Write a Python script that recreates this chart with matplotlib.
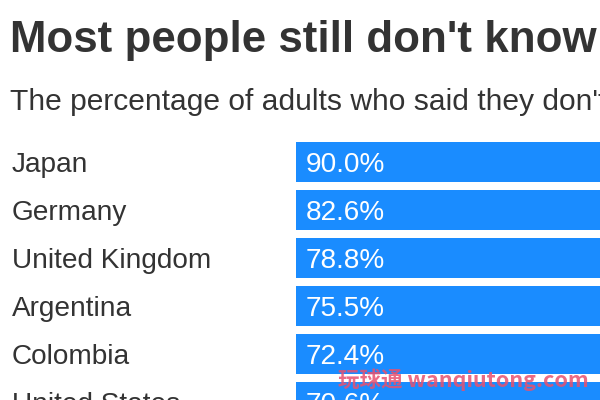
import matplotlib.pyplot as plt
import matplotlib.transforms as mtransforms

countries = ["Japan", "Germany", "United Kingdom", "Argentina", "Colombia", "United States"]
values = [90.0, 82.6, 78.8, 75.5, 72.4, 70.6]

title = "Most people still don't know"
subtitle = "The percentage of adults who said they don't"
watermark = "玩球通 wanqiutong.com"

plt.rcParams['font.family'] = ['Liberation Sans', 'DejaVu Sans']

W, H = 600, 400
fig = plt.figure(figsize=(6, 4), dpi=100)

# axes: bars start at x=296px and run off the right edge
left = 296 / W
width = (900 - 296) / W
pitch = 48
top_px = 142
ax = fig.add_axes([left, 0, width, (H - top_px) / H])
ax.set_xlim(0, 100)
ax.set_ylim((H - 162) / pitch, -20 / pitch)
ax.axis('off')

bar_h = 40 / pitch
ax.barh(range(len(countries)), values, height=bar_h, color='#1a8cff')

lab = mtransforms.blended_transform_factory(fig.transFigure, ax.transData)
for i, (c, v) in enumerate(zip(countries, values)):
	ax.text(12 / W, i, c, transform=lab, ha='left', va='center_baseline',
		fontsize=20.2, color='#333333', clip_on=False)
	ax.text(306 / W, i, f"{v:.1f}%", transform=lab, ha='left', va='center_baseline',
		fontsize=20.2, color='white')

fig.text(10 / W, 1 - 52 / H, title, fontsize=31.6, fontweight='bold',
	color='#333333', ha='left', va='baseline')
fig.text(10 / W, 1 - 110 / H, subtitle, fontsize=21.6, color='#333333',
	ha='left', va='baseline')

fig.text(338 / W, 1 - 387 / H, watermark, fontsize=15.5, fontweight='bold',
	color='#e8506e', alpha=0.85, ha='left', va='baseline',
	family=['Noto Sans CJK SC', 'DejaVu Sans'])

fig.savefig('out.png', dpi=100)
